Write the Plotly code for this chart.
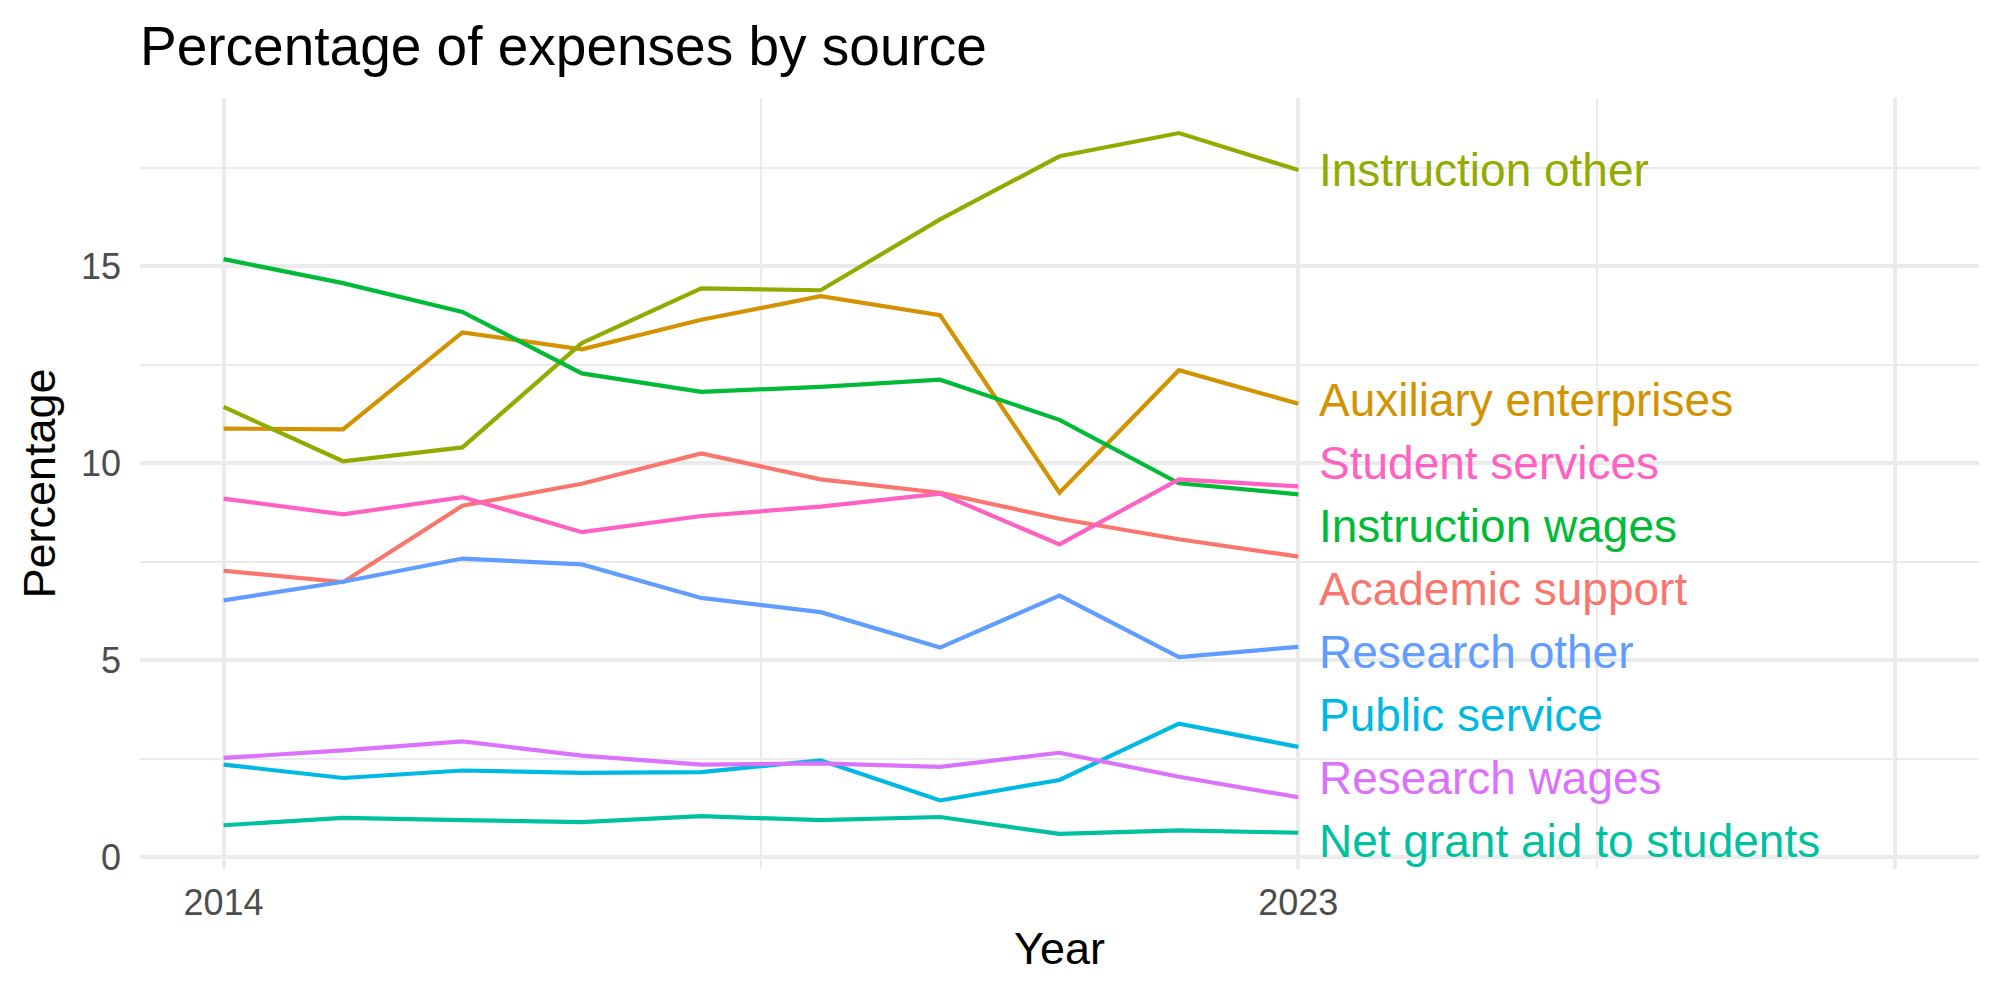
import plotly.graph_objects as go
import numpy as np

years = list(range(2014, 2024))

series_names = [
    "Academic support",
    "Auxiliary enterprises",
    "Instruction other",
    "Instruction wages",
    "Net grant aid to students",
    "Public service",
    "Research other",
    "Research wages",
    "Student services",
]

academic_support = [7.27, 6.98, 8.92, 9.48, 10.25, 9.59, 9.25, 8.59, 8.07, 7.63]
auxiliary_enterprises = [10.88, 10.86, 13.32, 12.89, 13.64, 14.24, 13.76, 9.25, 12.36, 11.51]
instruction_other = [11.43, 10.05, 10.40, 13.05, 14.44, 14.39, 16.19, 17.79, 18.38, 17.44]
instruction_wages = [15.18, 14.57, 13.84, 12.28, 11.81, 11.94, 12.12, 11.10, 9.49, 9.21]
net_grant_aid = [0.81, 1.00, 0.94, 0.89, 1.04, 0.94, 1.02, 0.59, 0.68, 0.62]
public_service = [2.35, 2.01, 2.20, 2.14, 2.16, 2.46, 1.44, 1.96, 3.39, 2.80]
research_other = [6.52, 6.99, 7.58, 7.43, 6.58, 6.22, 5.32, 6.64, 5.08, 5.34]
research_wages = [2.52, 2.71, 2.94, 2.58, 2.35, 2.38, 2.29, 2.65, 2.04, 1.52]
student_services = [9.10, 8.70, 9.14, 8.25, 8.66, 8.90, 9.23, 7.94, 9.59, 9.41]

series_values = [
    academic_support, auxiliary_enterprises, instruction_other, instruction_wages,
    net_grant_aid, public_service, research_other, research_wages, student_services,
]

colors = ["#F8766D", "#D39200", "#93AA00", "#00BA38", "#00C19F",
          "#00B9E3", "#619CFF", "#DB72FB", "#FF61C3"]

x_tick_vals = [2014, 2023, 2028]
x_tick_text = ["2014", "2023", ""]
y_tick_vals = [0, 5, 10, 15]
y_tick_text = ["0", "5", "10", "15"]

FONT = "Liberation Sans, Arial, Helvetica, sans-serif"
GRID = "#EBEBEB"

fig = go.Figure()
for name, vals, col in zip(series_names, series_values, colors):
    fig.add_trace(go.Scatter(x=years, y=vals, mode="lines", name=name,
                             line=dict(color=col, width=4.2), showlegend=False))

# simple 1-D label repel: labels at least `gap` apart; neighbouring groups
# that come within `slack` of touching are merged into one chain (PAV-style)
gap = 1.6
slack = 0.8
last = np.array([v[-1] for v in series_values])
order = np.argsort(last)
w = [last[i] - k * gap for k, i in enumerate(order)]
blocks = []
for val in w:
    blocks.append([val, 1])
    while len(blocks) > 1 and blocks[-2][0] > blocks[-1][0] - slack:
        v2, n2 = blocks.pop()
        v1, n1 = blocks.pop()
        blocks.append([(v1 * n1 + v2 * n2) / (n1 + n2), n1 + n2])
fit = []
for v, n in blocks:
    fit += [v] * n
label_y = {}
for k, i in enumerate(order):
    label_y[i] = fit[k] + k * gap

for i, (name, col) in enumerate(zip(series_names, colors)):
    fig.add_annotation(x=years[-1] + 0.16, y=label_y[i], xref="x", yref="y",
                       text=name, showarrow=False, xanchor="left", yanchor="middle",
                       font=dict(family=FONT, size=46, color=col))

fig.update_layout(
    width=2000, height=1000,
    margin=dict(l=140, r=21, t=98, b=131),
    plot_bgcolor="white", paper_bgcolor="white",
    title=dict(text="Percentage of expenses by source", x=140 / 2000, xanchor="left",
               xref="container", y=1 - 46 / 1000, yanchor="middle", yref="container",
               font=dict(family=FONT, size=55, color="black")),
    font=dict(family=FONT),
)
fig.update_xaxes(
    range=[2013.3, 2028.7], tickmode="array", tickvals=x_tick_vals, ticktext=x_tick_text,
    showgrid=True, gridcolor=GRID, gridwidth=3.5, zeroline=False, showline=False,
    ticks="", ticklabelstandoff=9,
    tickfont=dict(family=FONT, size=36, color="#4D4D4D"),
    minor=dict(tickmode="array", tickvals=[2018.5, 2025.5], showgrid=True,
               gridcolor=GRID, gridwidth=1.8),
    title=dict(text="Year", font=dict(family=FONT, size=45, color="black"), standoff=10),
)
fig.update_yaxes(
    range=[-0.30, 19.27], tickmode="array", tickvals=y_tick_vals, ticktext=y_tick_text,
    showgrid=True, gridcolor=GRID, gridwidth=3.5, zeroline=False, showline=False,
    ticks="", ticklabelstandoff=18,
    tickfont=dict(family=FONT, size=36, color="#4D4D4D"),
    minor=dict(tickmode="array", tickvals=[2.5, 7.5, 12.5, 17.5], showgrid=True,
               gridcolor=GRID, gridwidth=1.8),
    title=dict(text="Percentage", font=dict(family=FONT, size=45, color="black"), standoff=11),
)

fig.write_html("out.html")
